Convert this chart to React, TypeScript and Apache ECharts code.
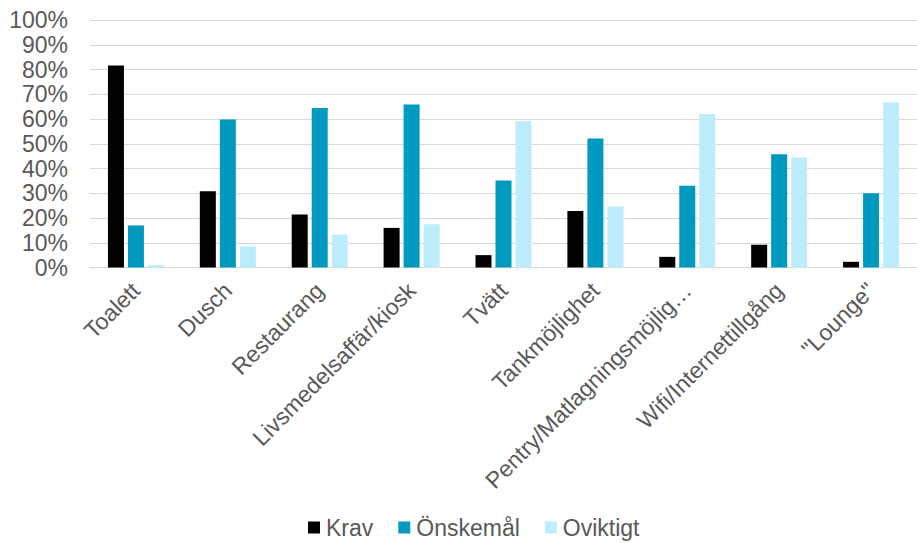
import React, { useEffect, useRef } from "react";
import * as echarts from "echarts";

const categories = [
  "Toalett",
  "Dusch",
  "Restaurang",
  "Livsmedelsaffär/kiosk",
  "Tvätt",
  "Tankmöjlighet",
  "Pentry/Matlagningsmöjlig…",
  "Wifi/Internettillgång",
  "\"Lounge\"",
];

const krav = [81.6, 30.8, 21.4, 16.0, 5.0, 22.8, 4.3, 9.2, 2.3];
const onskemal = [17.0, 59.8, 64.4, 65.9, 35.2, 52.1, 33.0, 45.8, 30.0];
const oviktigt = [1.0, 8.5, 13.3, 17.5, 59.1, 24.6, 62.0, 44.4, 66.8];

const seriesNames = ["Krav", "Önskemål", "Oviktigt"];
const seriesColors = ["#000000", "#0099C0", "#BDEDFC"];

const FONT = "'Liberation Sans', Arial, sans-serif";
const TEXT_COLOR = "#595959";

export default function App() {
  const ref = useRef<HTMLDivElement>(null);

  useEffect(() => {
    document.body.style.margin = "0";
    if (!ref.current) return;
    const chart = echarts.init(ref.current, null, { renderer: "svg" });
    const values = [krav, onskemal, oviktigt];
    chart.setOption({
      animation: false,
      textStyle: { fontFamily: FONT },
      grid: { left: 90, right: -5, top: 20, bottom: 275.5 },
      legend: {
        left: 308,
        top: 516,
        padding: 0,
        itemWidth: 12,
        itemHeight: 12,
        itemGap: 25,
        icon: "rect",
        textStyle: { fontSize: 23, color: TEXT_COLOR, fontFamily: FONT, padding: [0, 0, 0, 1] },
        data: seriesNames,
      },
      xAxis: {
        type: "category",
        data: categories,
        axisTick: { show: false },
        axisLine: { lineStyle: { color: "#D9D9D9", width: 1 } },
        axisLabel: {
          interval: 0,
          rotate: 45,
          margin: 19,
          fontSize: 23,
          color: TEXT_COLOR,
          fontFamily: FONT,
        },
      },
      yAxis: {
        type: "value",
        min: 0,
        max: 100,
        interval: 10,
        axisLine: { show: false },
        axisTick: { show: false },
        splitLine: { lineStyle: { color: "#D9D9D9", width: 1 } },
        axisLabel: {
          formatter: "{value}%",
          margin: 22,
          fontSize: 23,
          color: TEXT_COLOR,
          fontFamily: FONT,
        },
      },
      series: seriesNames.map((name, i) => ({
        name,
        type: "bar",
        data: values[i],
        barWidth: 16,
        barGap: "25%",
        itemStyle: { color: seriesColors[i] },
      })),
    });
    return () => chart.dispose();
  }, []);

  return (
    <div
      ref={ref}
      style={{ position: "absolute", left: 0, top: 0, width: 917, height: 543 }}
    />
  );
}
